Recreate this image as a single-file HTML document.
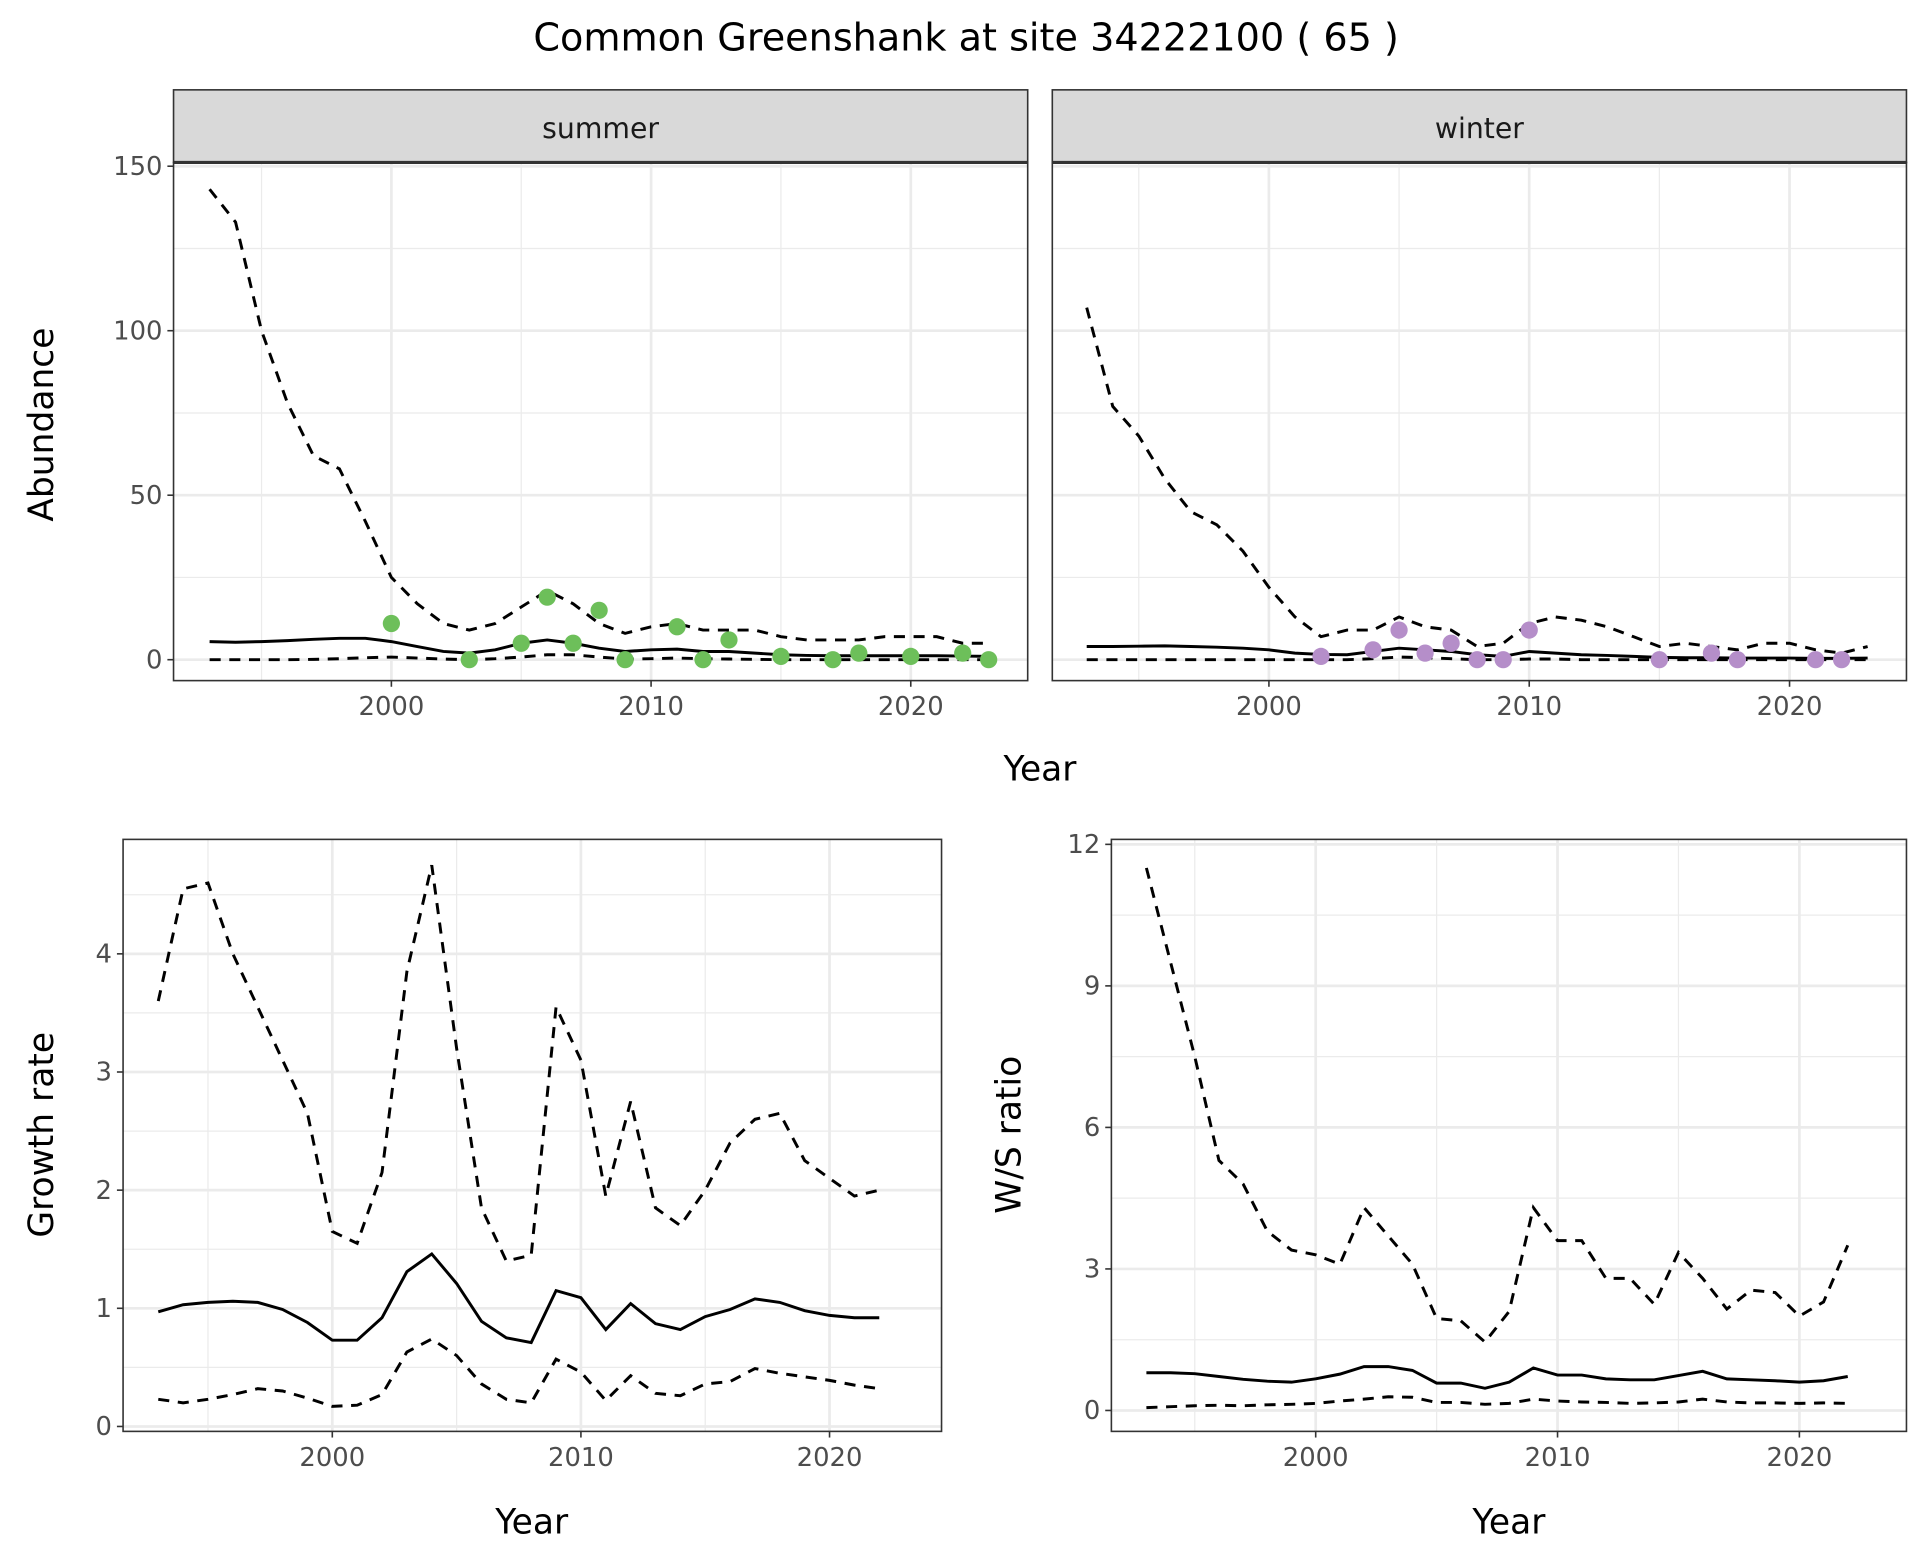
<!DOCTYPE html>
<html><head><meta charset="utf-8"><style>html,body{margin:0;padding:0;background:#fff}svg{display:block}</style></head>
<body>
<svg id="s" xmlns="http://www.w3.org/2000/svg" width="1920" height="1560" viewBox="0 0 1560 1267.5" preserveAspectRatio="none" font-family="'DejaVu Sans','Liberation Sans',sans-serif">
<rect width="1560" height="1268" fill="#fff"/>
<text x="785" y="41" font-size="31" text-anchor="middle" fill="#000">Common Greenshank at site 34222100 ( 65 )</text>
</svg>
<script>
const S=document.getElementById('s');let h='';
function panel(o){
 const {x0,x1,y0,y1,xa,xs,ya,ys,ymaj,ymin,xmaj,xmin,ylab}=o;
 const X=v=>xa+(v-2000)*xs, Y=v=>ya-v*ys;
 h+=`<rect x="${x0}" y="${y0}" width="${x1-x0}" height="${y1-y0}" fill="#fff"/>`;
 for(const v of ymin)h+=`<line x1="${x0}" x2="${x1}" y1="${Y(v)}" y2="${Y(v)}" stroke="#ebebeb" stroke-width="1"/>`;
 for(const v of xmin)h+=`<line y1="${y0}" y2="${y1}" x1="${X(v)}" x2="${X(v)}" stroke="#ebebeb" stroke-width="1"/>`;
 for(const v of ymaj)h+=`<line x1="${x0}" x2="${x1}" y1="${Y(v)}" y2="${Y(v)}" stroke="#ebebeb" stroke-width="2.2"/>`;
 for(const v of xmaj)h+=`<line y1="${y0}" y2="${y1}" x1="${X(v)}" x2="${X(v)}" stroke="#ebebeb" stroke-width="2.2"/>`;
 const line=(d,dash)=>{h+=`<polyline fill="none" stroke="#000" stroke-width="2.4" ${dash?'stroke-dasharray="9,7"':''} points="${d.map((v,i)=>X(o.start+i)+','+Y(v)).join(' ')}"/>`;};
 line(o.up,1);line(o.lo,1);line(o.mid,0);
 if(o.pts)for(const [yr,v] of o.pts)h+=`<circle cx="${X(yr)}" cy="${Y(v)}" r="7" fill="${o.col}"/>`;
 h+=`<rect x="${x0}" y="${y0}" width="${x1-x0}" height="${y1-y0}" fill="none" stroke="#333" stroke-width="1.3"/>`;
 for(const v of xmaj){h+=`<line x1="${X(v)}" x2="${X(v)}" y1="${y1}" y2="${y1+5}" stroke="#333" stroke-width="1.3"/><text x="${X(v)}" y="${y1+28}" font-size="21" fill="#4d4d4d" text-anchor="middle">${v}</text>`;}
 if(ylab)for(const v of ymaj){h+=`<line x1="${x0-5}" x2="${x0}" y1="${Y(v)}" y2="${Y(v)}" stroke="#333" stroke-width="1.3"/><text x="${x0-9}" y="${Y(v)+7}" font-size="21" fill="#4d4d4d" text-anchor="end">${v}</text>`;}
}
panel({x0:141,x1:835,y0:132,y1:553,xa:318,xs:21.1,ya:536,ys:2.673,ymaj:[0,50,100,150],ymin:[25,75,125],xmaj:[2000,2010,2020],xmin:[1995,2005,2015],ylab:1,start:1993,
 up:[143,133,100,78,62,58,42,25,17,11,9,11,16,21,17,11,8,10,11,9,9,9,7,6,6,6,7,7,7,5,5],
 mid:[5.5,5.3,5.5,5.8,6.2,6.5,6.5,5.5,4,2.5,2,3,5,6,5,3.5,2.5,3,3.2,2.5,2.5,2,1.5,1.3,1.2,1.2,1.2,1.2,1.2,1.1,1],
 lo:[0,0,0,0,0.1,0.3,0.6,0.8,0.5,0.2,0,0.3,0.8,1.5,1.5,0.8,0.2,0.3,0.5,0.3,0.2,0.1,0,0,0,0,0,0,0,0,0],
 pts:[[2000,11],[2003,0],[2005,5],[2006,19],[2007,5],[2008,15],[2009,0],[2011,10],[2012,0],[2013,6],[2015,1],[2017,0],[2018,2],[2020,1],[2022,2],[2023,0]],col:'#6dbf5a'});
panel({x0:855,x1:1549,y0:132,y1:553,xa:1031,xs:21.15,ya:536,ys:2.673,ymaj:[0,50,100,150],ymin:[25,75,125],xmaj:[2000,2010,2020],xmin:[1995,2005,2015],ylab:0,start:1993,
 up:[107,77,68,55,45,41,33,22,13,7,9,9,13,10,9,4,5,11,13,12,10,7,4,5,4,3,5,5,3,2,4],
 mid:[4,4,4.1,4.2,4,3.8,3.5,3,2,1.6,1.5,2.5,3.5,3,2.5,1.5,1,2.5,2,1.5,1.3,1,0.7,0.6,0.6,0.5,0.5,0.5,0.4,0.4,0.5],
 lo:[0,0,0,0,0,0,0,0,0,0,0,0.3,0.8,0.6,0.3,0,0,0.2,0.2,0,0,0,0,0,0,0,0,0,0,0,0],
 pts:[[2002,1],[2004,3],[2005,9],[2006,2],[2007,5],[2008,0],[2009,0],[2010,9],[2015,0],[2017,2],[2018,0],[2021,0],[2022,0]],col:'#b58ec9'});
h+=`<rect x="141" y="73" width="694" height="59" fill="#d9d9d9" stroke="#333" stroke-width="1.3"/><text x="488" y="112" font-size="23" text-anchor="middle" fill="#1a1a1a">summer</text>`;
h+=`<rect x="855" y="73" width="694" height="59" fill="#d9d9d9" stroke="#333" stroke-width="1.3"/><text x="1202" y="112" font-size="23" text-anchor="middle" fill="#1a1a1a">winter</text>`;
h+=`<line x1="141" x2="835" y1="132" y2="132" stroke="#333" stroke-width="2.5"/><line x1="855" x2="1549" y1="132" y2="132" stroke="#333" stroke-width="2.5"/>`;
panel({x0:100,x1:765,y0:682,y1:1163,xa:270,xs:20.2,ya:1159,ys:96,ymaj:[0,1,2,3,4],ymin:[0.5,1.5,2.5,3.5,4.5],xmaj:[2000,2010,2020],xmin:[1995,2005,2015],ylab:1,start:1993,
 up:[3.6,4.55,4.6,4.0,3.55,3.1,2.65,1.65,1.55,2.15,3.85,4.75,3.2,1.85,1.4,1.45,3.55,3.1,1.95,2.75,1.85,1.7,2.0,2.4,2.6,2.65,2.25,2.1,1.95,2.0],
 mid:[.97,1.03,1.05,1.06,1.05,.99,.88,.73,.73,.92,1.31,1.46,1.21,.89,.75,.71,1.15,1.09,.82,1.04,.87,.82,.93,.99,1.08,1.05,.98,.94,.92,.92],
 lo:[.23,.2,.23,.27,.32,.3,.24,.17,.18,.27,.63,.74,.6,.36,.23,.2,.57,.46,.22,.43,.28,.26,.36,.38,.49,.45,.42,.39,.35,.32]});
panel({x0:903,x1:1549,y0:682,y1:1163,xa:1069,xs:19.65,ya:1146,ys:38.33,ymaj:[0,3,6,9,12],ymin:[1.5,4.5,7.5,10.5],xmaj:[2000,2010,2020],xmin:[1995,2005,2015],ylab:1,start:1993,
 up:[11.5,9.5,7.5,5.3,4.8,3.8,3.4,3.3,3.1,4.3,3.7,3.1,1.95,1.9,1.45,2.1,4.3,3.6,3.6,2.8,2.8,2.25,3.35,2.8,2.15,2.55,2.5,2.0,2.3,3.5],
 mid:[.8,.8,.78,.72,.66,.62,.6,.67,.77,.93,.93,.85,.58,.58,.47,.6,.9,.75,.75,.67,.65,.65,.74,.83,.67,.65,.63,.6,.63,.72],
 lo:[.06,.08,.1,.11,.1,.12,.13,.15,.2,.24,.29,.28,.17,.17,.13,.15,.24,.2,.18,.17,.15,.16,.18,.24,.18,.16,.16,.15,.16,.15]});
h+=`<text x="845" y="634" font-size="28" text-anchor="middle">Year</text>`;
h+=`<text x="432" y="1246" font-size="28" text-anchor="middle">Year</text>`;
h+=`<text x="1226" y="1246" font-size="28" text-anchor="middle">Year</text>`;
h+=`<text transform="translate(43,345) rotate(-90)" font-size="28" text-anchor="middle">Abundance</text>`;
h+=`<text transform="translate(43,922) rotate(-90)" font-size="28" text-anchor="middle">Growth rate</text>`;
h+=`<text transform="translate(829,922) rotate(-90)" font-size="28" text-anchor="middle">W/S ratio</text>`;
S.insertAdjacentHTML('beforeend',h);
</script>
</body></html>
